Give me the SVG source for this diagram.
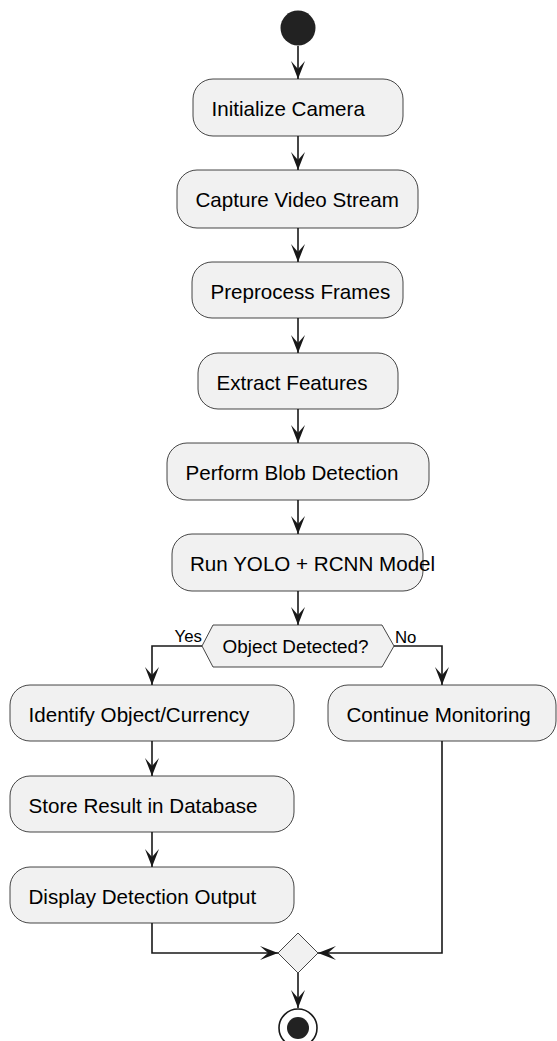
<svg xmlns="http://www.w3.org/2000/svg" width="557" height="1041" viewBox="0 0 557 1041">
<defs>
<marker id="ah" viewBox="0 0 19 16" refX="18" refY="8" markerWidth="19" markerHeight="16" markerUnits="userSpaceOnUse" orient="auto">
<path d="M18,8 L0,1 L8,8 L0,15 Z" fill="#181818"/>
</marker>
<style>
.box{fill:#F1F1F1;stroke:#181818;stroke-width:0.8}
.t{font-family:"Liberation Sans",Arial,sans-serif;font-size:20.6px;fill:#000}
.s{font-family:"Liberation Sans",Arial,sans-serif;font-size:18.9px;fill:#000}
.l{font-family:"Liberation Sans",Arial,sans-serif;font-size:16.8px;fill:#000}
.c{fill:none;stroke:#181818;stroke-width:1.6}
</style>
</defs>
<rect width="557" height="1041" fill="#FFFFFF"/>
<g id="connectors">
<line class="c" x1="298" y1="46" x2="298" y2="79" marker-end="url(#ah)"/>
<line class="c" x1="298" y1="136" x2="298" y2="170" marker-end="url(#ah)"/>
<line class="c" x1="298" y1="228" x2="298" y2="262" marker-end="url(#ah)"/>
<line class="c" x1="298" y1="318" x2="298" y2="353" marker-end="url(#ah)"/>
<line class="c" x1="298" y1="409" x2="298" y2="443" marker-end="url(#ah)"/>
<line class="c" x1="298" y1="500" x2="298" y2="534" marker-end="url(#ah)"/>
<line class="c" x1="298" y1="591" x2="298" y2="625" marker-end="url(#ah)"/>
<polyline class="c" points="202,646 152,646 152,685" marker-end="url(#ah)"/>
<polyline class="c" points="394,646 442,646 442,685" marker-end="url(#ah)"/>
<line class="c" x1="152" y1="741" x2="152" y2="776" marker-end="url(#ah)"/>
<line class="c" x1="152" y1="832" x2="152" y2="867" marker-end="url(#ah)"/>
<polyline class="c" points="152,923 152,953 278,953" marker-end="url(#ah)"/>
<polyline class="c" points="442,741 442,953 318,953" marker-end="url(#ah)"/>
<line class="c" x1="298" y1="973" x2="298" y2="1008" marker-end="url(#ah)"/>
<text class="l" x="174.5" y="642">Yes</text>
<text class="l" x="395" y="642.5">No</text>
</g>
<g id="start"><circle cx="298" cy="28" r="17.5" fill="#222222"/></g>
<g id="n1"><rect class="box" x="193" y="79" width="210" height="57" rx="20"/><text class="t" x="211.5" y="116">Initialize Camera</text></g>
<g id="n2"><rect class="box" x="177" y="170" width="241" height="58" rx="20"/><text class="t" x="195.5" y="207">Capture Video Stream</text></g>
<g id="n3"><rect class="box" x="192" y="262" width="211" height="56" rx="20"/><text class="t" x="210.5" y="298.5">Preprocess Frames</text></g>
<g id="n4"><rect class="box" x="198" y="353" width="200" height="56" rx="20"/><text class="t" x="216.5" y="389.5">Extract Features</text></g>
<g id="n5"><rect class="box" x="167" y="443" width="262" height="57" rx="20"/><text class="t" x="185.5" y="480">Perform Blob Detection</text></g>
<g id="n6"><rect class="box" x="172" y="534" width="251" height="57" rx="20"/><text class="t" x="190" y="571">Run YOLO + RCNN Model</text></g>
<g id="decision"><polygon class="box" points="202,646 213,625 382,625 394,646 382,667 213,667"/><text class="s" x="222.5" y="652.5">Object Detected?</text></g>
<g id="n7"><rect class="box" x="10" y="685" width="284" height="56" rx="20"/><text class="t" x="28.5" y="722">Identify Object/Currency</text></g>
<g id="n8"><rect class="box" x="328" y="685" width="228" height="56" rx="20"/><text class="t" x="346.5" y="722">Continue Monitoring</text></g>
<g id="n9"><rect class="box" x="10" y="776" width="284" height="56" rx="20"/><text class="t" x="28.5" y="813">Store Result in Database</text></g>
<g id="n10"><rect class="box" x="10" y="867" width="284" height="56" rx="20"/><text class="t" x="28.5" y="904">Display Detection Output</text></g>
<g id="merge"><polygon class="box" points="298,933 318,953 298,973 278,953"/></g>
<g id="end"><circle cx="298" cy="1028" r="19" fill="none" stroke="#181818" stroke-width="1.6"/><circle cx="298" cy="1028" r="11" fill="#222222"/></g>
</svg>
